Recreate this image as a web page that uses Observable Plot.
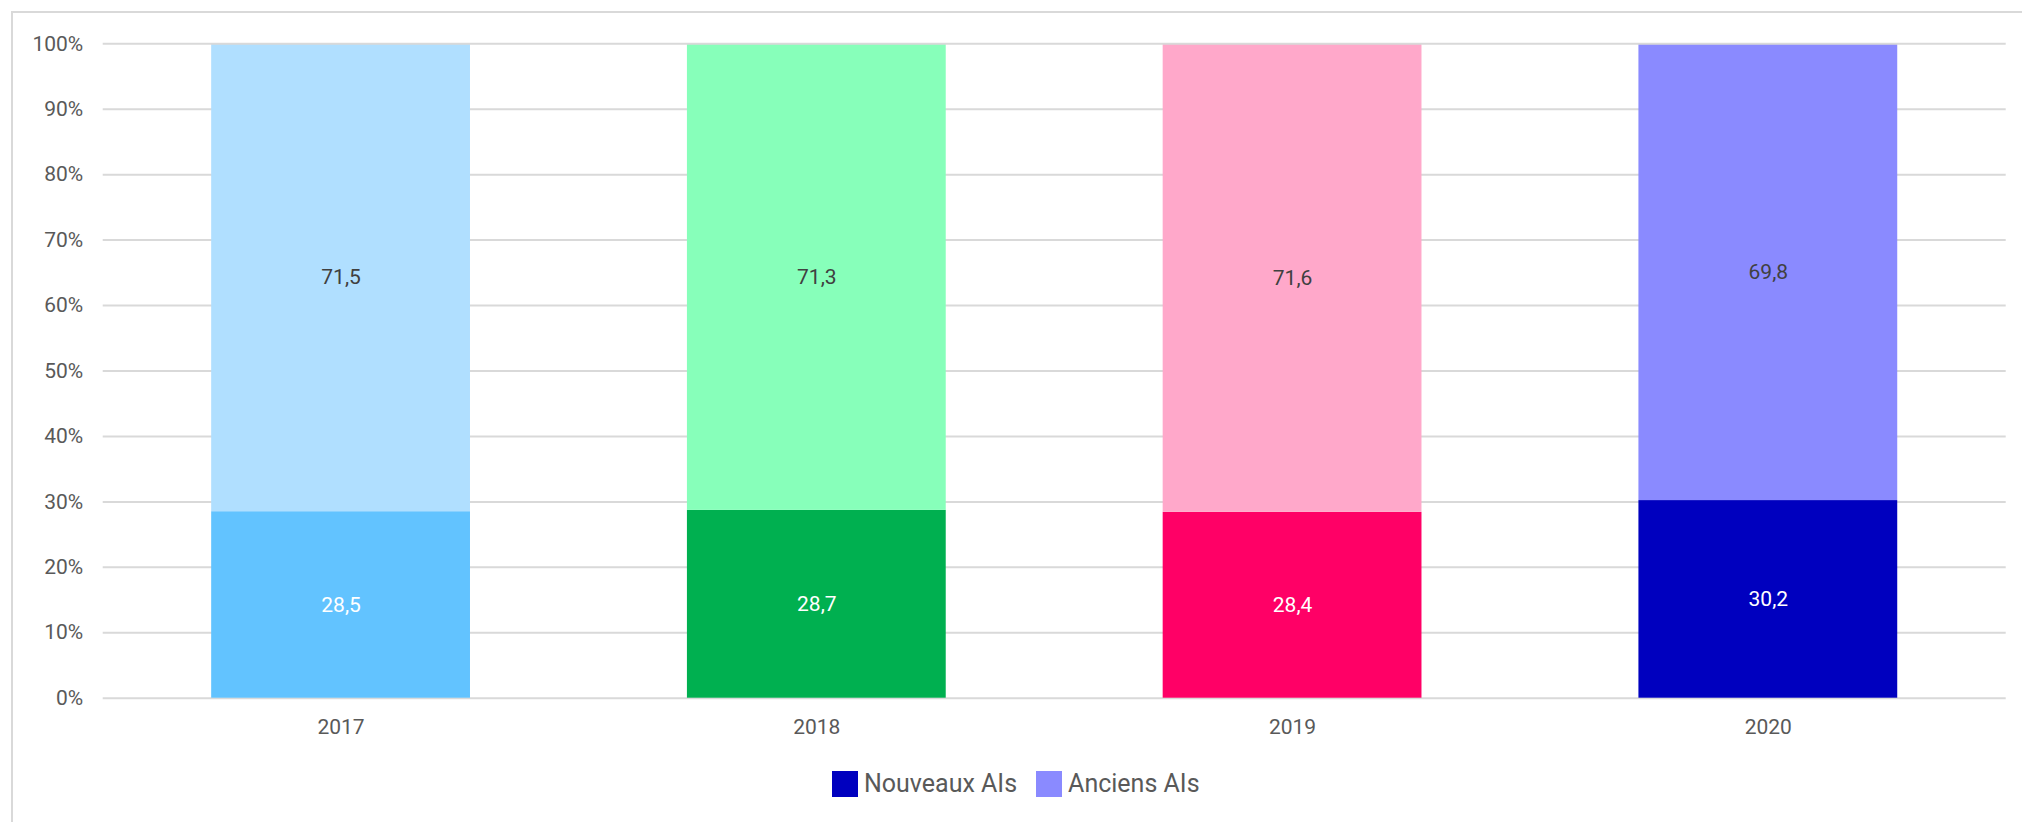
<!DOCTYPE html>
<html>
<head>
<meta charset="utf-8">
<script src="https://cdn.jsdelivr.net/npm/d3@7"></script>
<script src="https://cdn.jsdelivr.net/npm/@observablehq/plot@0.6"></script>
<style>
  html, body { margin: 0; padding: 0; background: #ffffff; }
  body { width: 2022px; height: 822px; position: relative; overflow: hidden; font-family: Roboto, "Noto Sans", sans-serif; }
  #frame { position: absolute; left: 11px; top: 11px; right: -10px; bottom: -10px;
           border-left: 2px solid #d9d9d9; border-top: 2px solid #d9d9d9; pointer-events: none; }
  #chart { position: absolute; left: 0; top: 0; }
  #legend { position: absolute; left: 832px; top: 771px; display: flex; align-items: center;
            font-size: 25px; color: #595959; line-height: 26px; }
  #legend .item { display: flex; align-items: center; margin-right: 19px; }
  #legend .swatch { width: 26px; height: 26px; margin-right: 6px; }
</style>
</head>
<body>
<div id="frame"></div>
<div id="chart"></div>
<div id="legend"></div>
<script>
// Share of new vs. former AIs per year (%)
const years = ["2017", "2018", "2019", "2020"];
const series = ["Nouveaux AIs", "Anciens AIs"];
const nouveaux = [28.5, 28.7, 28.4, 30.2];
const anciens = [71.5, 71.3, 71.6, 69.8];
const yTicks = [0, 10, 20, 30, 40, 50, 60, 70, 80, 90, 100];

// Each year has its own hue: darker for new AIs, lighter for former AIs
const nouveauxColors = ["#62c3ff", "#00b050", "#ff0066", "#0000bf"];
const anciensColors = ["#b0dfff", "#87ffba", "#ffa8ca", "#8a8aff"];
const legendColors = ["#0000bf", "#8a8aff"];

const rows = [];
years.forEach((year, i) => {
  rows.push({year, serie: series[0], value: nouveaux[i], color: nouveauxColors[i], label: "#ffffff"});
  rows.push({year, serie: series[1], value: anciens[i], color: anciensColors[i], label: "#404040"});
});

const fmt = v => v.toFixed(1).replace(".", ",");

const plot = Plot.plot({
  width: 2022,
  height: 760,
  marginLeft: 102.7,
  marginRight: 16.3,
  marginTop: 43.3,
  marginBottom: 62.3,
  style: {fontFamily: "Roboto, 'Noto Sans', sans-serif", background: "transparent"},
  x: {type: "band", domain: years, paddingInner: 0.456, paddingOuter: 0.228, round: false, label: null},
  y: {domain: [0, 100], label: null},
  color: {type: "identity"},
  marks: [
    // gridlines below the bars, except the 100% line which runs over the bar tops
    Plot.gridY(yTicks.filter(d => d !== 100), {stroke: "#d9d9d9", strokeOpacity: 1, strokeWidth: 2}),
    Plot.barY(rows, {x: "year", y: "value", fill: "color", order: series}),
    Plot.gridY(yTicks.filter(d => d === 100), {stroke: "#d9d9d9", strokeOpacity: 1, strokeWidth: 2}),
    Plot.text(rows, Plot.stackY({
      x: "year", y: "value", order: series,
      text: d => fmt(d.value), fill: "label", fontSize: 21
    })),
    Plot.axisY(yTicks, {
      tickSize: 0, tickPadding: 20, tickFormat: d => d + "%",
      fontSize: 21, fill: "#595959", label: null
    }),
    Plot.axisX({
      tickSize: 0, tickPadding: 21, fontSize: 21, fill: "#595959", label: null
    })
  ]
});
document.getElementById("chart").appendChild(plot);

// Legend below the chart
const legend = document.getElementById("legend");
series.forEach((s, i) => {
  const item = document.createElement("div");
  item.className = "item";
  const sw = document.createElement("div");
  sw.className = "swatch";
  sw.style.background = legendColors[i];
  const label = document.createElement("span");
  label.textContent = s;
  item.appendChild(sw);
  item.appendChild(label);
  legend.appendChild(item);
});
</script>
</body>
</html>
